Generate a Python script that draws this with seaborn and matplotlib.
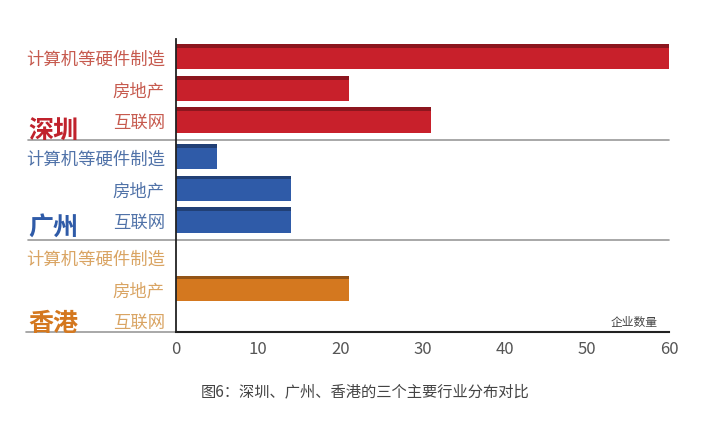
import numpy as np
import pandas as pd
import matplotlib
matplotlib.use("Agg")
import matplotlib.pyplot as plt
from matplotlib.patches import Rectangle
import seaborn as sns

cities = ["深圳", "广州", "香港"]
industries = ["计算机等硬件制造", "房地产", "互联网"]
shenzhen = [60, 21, 31]
guangzhou = [5, 14, 14]
hongkong = [0, 21, 0]
xticks = [0, 10, 20, 30, 40, 50, 60]
caption = "图6：深圳、广州、香港的三个主要行业分布对比"
xlabel = "企业数量"

bar_colors = {"深圳": "#C8202B", "广州": "#2F5BA8", "香港": "#D4781F"}
label_colors = {"深圳": "#C65A4E", "广州": "#5072A8", "香港": "#D9A463"}
group_colors = {"深圳": "#C0222C", "广州": "#2F5BA8", "香港": "#D4781F"}

sns.set_theme(style="white")
plt.rcParams['font.family'] = ['Noto Sans CJK SC', 'DejaVu Sans']

rows = []
gap = 3.15
for g, (city, vals) in enumerate(zip(cities, [shenzhen, guangzhou, hongkong])):
    for i, (ind, v) in enumerate(zip(industries, vals)):
        rows.append({"city": city, "industry": ind, "value": v, "pos": g * gap + i})
df = pd.DataFrame(rows)

fig = plt.figure(figsize=(7.08, 4.27), dpi=100)
ax = fig.add_axes([0.2486, 0.2201, 0.6964, 0.687])

sns.barplot(data=df, x="value", y="pos", hue="city", palette=bar_colors,
            orient="y", native_scale=True, dodge=False, width=0.8, saturation=1,
            legend=False, ax=ax, edgecolor="none", linewidth=0)

# darker top face for pseudo-3D look
for p in list(ax.patches):
    w = p.get_width()
    if w <= 0:
        continue
    fc = p.get_facecolor()
    y0 = p.get_y()
    h = p.get_height()
    dark = tuple(c * 0.7 for c in fc[:3])
    ax.add_patch(Rectangle((0, y0), w, h * 0.15, facecolor=dark, edgecolor="none",
                           zorder=p.get_zorder() + 0.1))

ax.set_xlim(0, 60)
ax.set_ylim(df["pos"].max() + 0.38, -0.57)
ax.set_xticks(xticks)
ax.set_xticklabels([str(t) for t in xticks], fontsize=12, color="#555555")
ax.tick_params(axis="x", direction="in", length=6, width=1.3, color="#222222", pad=6)
ax.set_yticks(df["pos"])
ax.set_yticklabels(df["industry"], fontsize=12.5)
for lbl, city in zip(ax.get_yticklabels(), df["city"]):
    lbl.set_color(label_colors[city])
ax.tick_params(axis="y", length=0, pad=8)
ax.set_xlabel("")
ax.set_ylabel("")
for s in ["top", "right"]:
    ax.spines[s].set_visible(False)
ax.spines["left"].set_color("#222222")
ax.spines["left"].set_linewidth(1.3)
ax.spines["bottom"].set_color("#222222")
ax.spines["bottom"].set_linewidth(1.5)

# separators extending into label area
trans = ax.get_yaxis_transform()
for g in range(1, len(cities)):
    ysep = g * gap - 0.53
    ax.plot([-0.30, 1.0], [ysep, ysep], transform=trans, color="#999999", lw=1.2, clip_on=False)
ax.plot([-0.305, 0.0], [ax.get_ylim()[0]] * 2, transform=trans, color="#999999", lw=1.2, clip_on=False)

# group labels
label_offsets = [2.35, 2.2, 2.1]
for g, city in enumerate(cities):
    ax.text(-0.30, g * gap + label_offsets[g], city, transform=trans, fontsize=18, fontweight="bold",
            color=group_colors[city], ha="left", va="center")

ax.text(0.93, df["pos"].max() + 0.05, xlabel, transform=trans, fontsize=8.5,
        color="#444444", ha="center", va="center")

fig.text(0.515, 0.082, caption, fontsize=11, color="#444444", ha="center", va="center")

fig.savefig("out.png", dpi=100)
